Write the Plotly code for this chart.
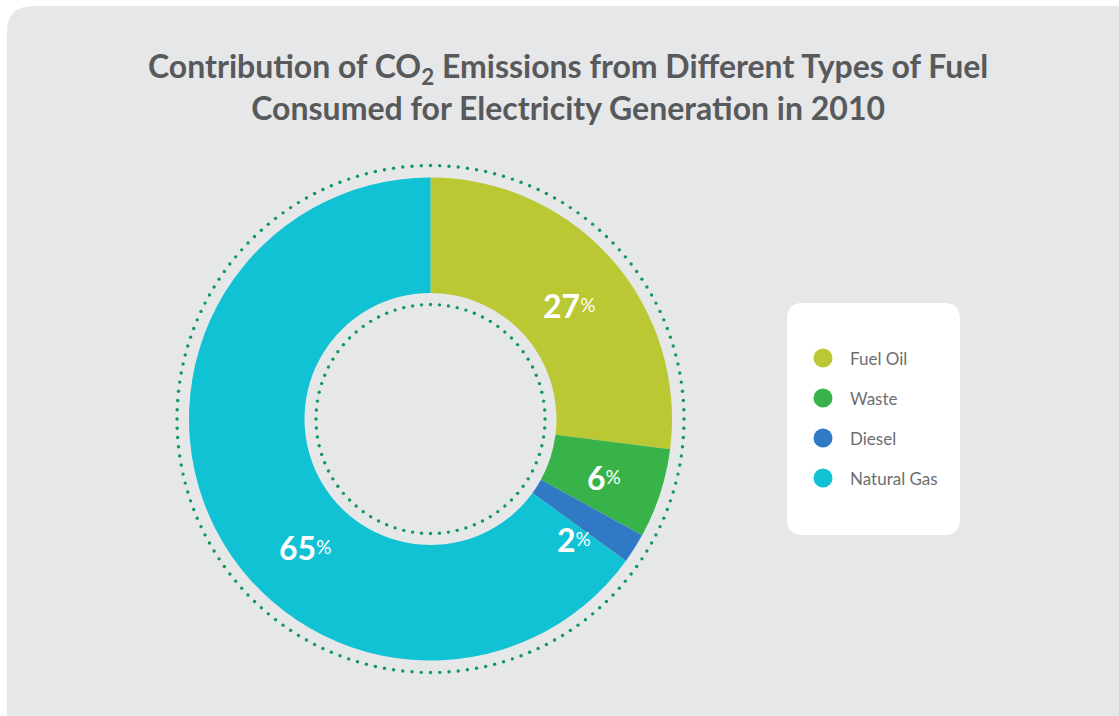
import numpy as np
import plotly.graph_objects as go

# --- data ---
fuels = ["Fuel Oil", "Waste", "Diesel", "Natural Gas"]
shares = [27, 6, 2, 65]
colors = ["#b9c833", "#38b34a", "#2f79c5", "#10c2d3"]

W, H = 1119, 716
CX, CY = 430.5, 419.0        # donut centre (px)
R_OUT, R_IN = 241.5, 126.0   # donut radii (px)

FONT = "Lato"
TITLE_COLOR = "#58595b"
TEXT_COLOR = "#6d6e71"
PANEL = "#e6e7e9"
DOT = "#10975f"


def rounded_rect(x0, y0, x1, y1, r):
    return (f"M {x0+r},{y0} L {x1-r},{y0} Q {x1},{y0} {x1},{y0+r} "
            f"L {x1},{y1-r} Q {x1},{y1} {x1-r},{y1} L {x0+r},{y1} "
            f"Q {x0},{y1} {x0},{y1-r} L {x0},{y0+r} Q {x0},{y0} {x0+r},{y0} Z")


fig = go.Figure()

# donut
fig.add_trace(go.Pie(
    labels=fuels, values=shares, sort=False, direction="clockwise", rotation=0,
    hole=R_IN / R_OUT, marker=dict(colors=colors, line=dict(width=0)),
    textinfo="none", showlegend=False,
    domain=dict(x=[(CX - R_OUT) / W, (CX + R_OUT) / W],
                y=[1 - (CY + R_OUT) / H, 1 - (CY - R_OUT) / H]),
))

# dotted rings around and inside the donut
for radius, n in [(253.5, 172), (114.5, 80)]:
    th = np.linspace(0, 2 * np.pi, n, endpoint=False)
    fig.add_trace(go.Scatter(
        x=CX + radius * np.sin(th), y=CY - radius * np.cos(th),
        mode="markers", marker=dict(size=3.4, color=DOT),
        hoverinfo="skip", showlegend=False, cliponaxis=False,
    ))

# legend markers
LEG_X, LEG_Y0, LEG_DY = 823, 358, 40
fig.add_trace(go.Scatter(
    x=[LEG_X] * len(fuels), y=[LEG_Y0 + i * LEG_DY for i in range(len(fuels))],
    mode="markers", marker=dict(size=19, color=colors),
    hoverinfo="skip", showlegend=False, cliponaxis=False,
))

annotations = []
for i, name in enumerate(fuels):
    annotations.append(dict(
        x=LEG_X + 25, y=LEG_Y0 + i * LEG_DY, xref="x", yref="y",
        text=name, showarrow=False, xanchor="left", yanchor="middle",
        font=dict(family=FONT, size=17, color=TEXT_COLOR),
    ))

# percentage labels on the slices
label_pos = [(569, 305), (604, 477), (574, 539), (305, 547)]
for v, (lx, ly) in zip(shares, label_pos):
    annotations.append(dict(
        x=lx, y=ly, xref="x", yref="y", showarrow=False,
        xanchor="center", yanchor="middle",
        text=(f"<b>{v}</b><span style='font-size:19px;font-weight:normal;"
              f"baseline-shift:6px'>%</span>"),
        font=dict(family=FONT, size=32, color="white"),
    ))

# title
annotations.append(dict(
    x=568, y=86, xref="x", yref="y", showarrow=False,
    xanchor="center", yanchor="middle",
    text=("<b>Contribution of CO<sub>2</sub> Emissions from Different Types of Fuel"
          "<br>Consumed for Electricity Generation in 2010</b>"),
    font=dict(family=FONT, size=32, color=TITLE_COLOR),
))

shapes = [
    dict(type="path", xref="x", yref="y", layer="below",
         path=rounded_rect(7, 6, 1140, 740, 26),
         fillcolor=PANEL, line=dict(width=0)),
    dict(type="path", xref="x", yref="y", layer="below",
         path=rounded_rect(787, 303, 960, 535, 16),
         fillcolor="white", line=dict(width=0)),
]

fig.update_layout(
    width=W, height=H, margin=dict(l=0, r=0, t=0, b=0),
    paper_bgcolor="white", plot_bgcolor="rgba(0,0,0,0)",
    xaxis=dict(range=[0, W], visible=False, fixedrange=True, domain=[0, 1]),
    yaxis=dict(range=[H, 0], visible=False, fixedrange=True, domain=[0, 1]),
    shapes=shapes, annotations=annotations, showlegend=False,
)

fig.write_html("out.html")
